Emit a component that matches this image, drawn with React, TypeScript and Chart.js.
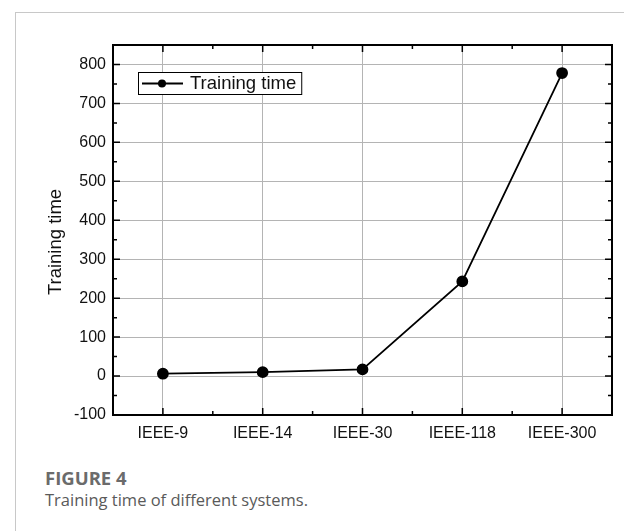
import React, { useEffect, useRef } from 'react';
import { Chart, registerables } from 'chart.js';

Chart.register(...registerables);

const categories = ['IEEE-9', 'IEEE-14', 'IEEE-30', 'IEEE-118', 'IEEE-300'];
const trainingTime = [6, 10, 17, 243, 778];
const yTickValues = [-100, 0, 100, 200, 300, 400, 500, 600, 700, 800];
const yMinorValues = [-50, 50, 150, 250, 350, 450, 550, 650, 750];
const yMin = -100;
const yMax = 850;
const seriesLabel = 'Training time';
const yAxisTitle = 'Training time';
const figureLabel = 'FIGURE 4';
const figureCaption = 'Training time of different systems.';

const FONT = '"Liberation Sans", Arial, sans-serif';

const framePlugin = {
  id: 'frame',
  afterDraw(chart: any) {
    const { ctx, chartArea, scales } = chart;
    const { left, right, top, bottom } = chartArea;
    const x = scales.x;
    const y = scales.y;
    ctx.save();
    ctx.strokeStyle = '#000';
    ctx.lineWidth = 1.5;
    ctx.beginPath();
    yTickValues.forEach((v) => {
      const p = y.getPixelForValue(v);
      ctx.moveTo(left, p); ctx.lineTo(left + 7, p);
      ctx.moveTo(right, p); ctx.lineTo(right - 7, p);
    });
    yMinorValues.forEach((v) => {
      const p = y.getPixelForValue(v);
      ctx.moveTo(left, p); ctx.lineTo(left + 4, p);
      ctx.moveTo(right, p); ctx.lineTo(right - 4, p);
    });
    const px = categories.map((_, i) => x.getPixelForValue(i));
    px.forEach((p) => {
      ctx.moveTo(p, bottom); ctx.lineTo(p, bottom - 7);
      ctx.moveTo(p, top); ctx.lineTo(p, top + 7);
    });
    for (let i = 0; i < px.length - 1; i++) {
      const m = (px[i] + px[i + 1]) / 2;
      ctx.moveTo(m, bottom); ctx.lineTo(m, bottom - 4);
      ctx.moveTo(m, top); ctx.lineTo(m, top + 4);
    }
    ctx.stroke();
    ctx.lineWidth = 2;
    ctx.strokeRect(left, top, right - left, bottom - top);

    ctx.fillStyle = '#111';
    ctx.font = `18.5px ${FONT}`;
    ctx.textAlign = 'center';
    ctx.textBaseline = 'middle';
    ctx.translate(left - 57, (top + bottom) / 2 + 12);
    ctx.rotate(-Math.PI / 2);
    ctx.fillText(yAxisTitle, 0, 0);
    ctx.restore();

    const label = chart.data.datasets[0].label;
    ctx.save();
    const bx = left + 25;
    const by = top + 27;
    ctx.font = `18.5px ${FONT}`;
    const tw = ctx.measureText(label).width;
    const bw = 52 + tw + 5;
    const bh = 22;
    ctx.fillStyle = '#fff';
    ctx.fillRect(bx, by, bw, bh);
    ctx.strokeStyle = '#000';
    ctx.lineWidth = 1;
    ctx.strokeRect(bx + 0.5, by + 0.5, bw, bh);
    ctx.lineWidth = 1.8;
    ctx.beginPath();
    ctx.moveTo(bx + 4, by + bh / 2 + 0.5);
    ctx.lineTo(bx + 45, by + bh / 2 + 0.5);
    ctx.stroke();
    ctx.fillStyle = '#000';
    ctx.beginPath();
    ctx.arc(bx + 24, by + bh / 2 + 0.5, 4, 0, Math.PI * 2);
    ctx.fill();
    ctx.fillStyle = '#111';
    ctx.textAlign = 'left';
    ctx.textBaseline = 'middle';
    ctx.fillText(label, bx + 52, by + bh / 2 + 1);
    ctx.restore();
  },
};

export default function App() {
  const canvasRef = useRef<HTMLCanvasElement | null>(null);

  useEffect(() => {
    document.body.style.margin = '0';
    document.body.style.background = '#fff';
    const canvas = canvasRef.current;
    if (!canvas) return;
    const chart = new Chart(canvas, {
      type: 'line',
      data: {
        labels: categories,
        datasets: [
          {
            label: seriesLabel,
            data: trainingTime,
            borderColor: '#000',
            backgroundColor: '#000',
            borderWidth: 1.8,
            pointRadius: 5,
            pointHoverRadius: 5,
            pointBackgroundColor: '#000',
            pointBorderColor: '#000',
            tension: 0,
          },
        ],
      },
      plugins: [framePlugin],
      options: {
        responsive: false,
        animation: false,
        devicePixelRatio: 1,
        layout: { padding: { left: 0, right: 12, top: 45, bottom: 0 } },
        plugins: {
          legend: { display: false },
          tooltip: { enabled: false },
          title: { display: false },
        },
        scales: {
          x: {
            type: 'category',
            offset: true,
            grid: {
              display: true,
              offset: false,
              color: '#b4b4b4',
              lineWidth: 1,
              drawTicks: false,
            },
            border: { display: false },
            ticks: {
              color: '#111',
              font: { family: FONT, size: 16 },
              padding: 9,
              maxRotation: 0,
              autoSkip: false,
            },
            afterFit: (scale: any) => {
              scale.height = 45;
            },
          },
          y: {
            type: 'linear',
            min: yMin,
            max: yMax,
            afterBuildTicks: (scale: any) => {
              scale.ticks = yTickValues.map((v) => ({ value: v }));
            },
            grid: {
              display: true,
              color: '#b4b4b4',
              lineWidth: 1,
              drawTicks: false,
            },
            border: { display: false },
            ticks: {
              color: '#111',
              font: { family: FONT, size: 16 },
              padding: 7,
            },
            afterFit: (scale: any) => {
              scale.width = 113;
            },
          },
        },
      },
    });
    return () => chart.destroy();
  }, []);

  return (
    <div style={{ position: 'relative', width: 624, height: 531, overflow: 'hidden', background: '#fff' }}>
      <div
        style={{
          position: 'absolute',
          left: 15,
          top: 12,
          width: 700,
          height: 600,
          borderLeft: '1px solid #c8c8c8',
          borderTop: '1px solid #c8c8c8',
        }}
      />
      <canvas
        ref={canvasRef}
        width={624}
        height={460}
        style={{ position: 'absolute', left: 0, top: 0, width: 624, height: 460 }}
      />
      <div
        style={{
          position: 'absolute',
          left: 45,
          top: 466,
          fontFamily: '"Open Sans", sans-serif',
          fontWeight: 700,
          fontSize: 18.5,
          lineHeight: '24px',
          color: '#6b6b6b',
        }}
      >
        {figureLabel}
      </div>
      <div
        style={{
          position: 'absolute',
          left: 45,
          top: 489,
          fontFamily: '"Open Sans", sans-serif',
          fontSize: 16.5,
          lineHeight: '22px',
          color: '#5a5a5a',
        }}
      >
        {figureCaption}
      </div>
    </div>
  );
}
